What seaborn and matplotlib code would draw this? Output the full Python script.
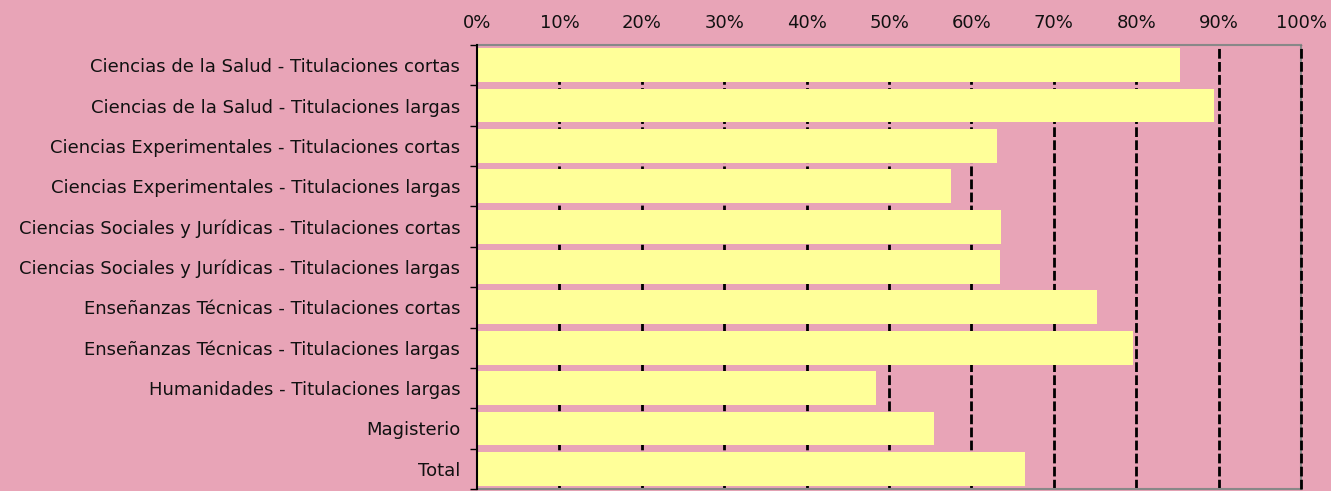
import matplotlib
matplotlib.use("Agg")
import matplotlib.pyplot as plt
import seaborn as sns
import pandas as pd
import numpy as np
from matplotlib.ticker import FixedLocator, PercentFormatter

categories = [
    "Ciencias de la Salud - Titulaciones cortas",
    "Ciencias de la Salud - Titulaciones largas",
    "Ciencias Experimentales - Titulaciones cortas",
    "Ciencias Experimentales - Titulaciones largas",
    "Ciencias Sociales y Jurídicas - Titulaciones cortas",
    "Ciencias Sociales y Jurídicas - Titulaciones largas",
    "Enseñanzas Técnicas - Titulaciones cortas",
    "Enseñanzas Técnicas - Titulaciones largas",
    "Humanidades - Titulaciones largas",
    "Magisterio",
    "Total",
]
values = [85.3, 89.4, 63.1, 57.5, 63.6, 63.5, 75.2, 79.6, 48.4, 55.5, 66.5]

df = pd.DataFrame({"cat": categories, "val": values})

bg = "#E8A4B7"
sns.set_theme(style="white")
plt.rcParams["font.family"] = ["DejaVu Sans"]

fig = plt.figure(figsize=(13.31, 4.91), dpi=100, facecolor=bg)
ax = fig.add_axes([0.3584, 0.004, 0.9775 - 0.3584, 0.9084 - 0.004])
ax.set_facecolor(bg)

sns.barplot(data=df, y="cat", x="val", orient="h", color="#FFFF99",
            saturation=1, width=0.84, ax=ax, zorder=3, edgecolor="none", linewidth=0)

ax.set_xlim(0, 100)
ax.set_ylim(len(categories) - 0.5, -0.5)
ax.xaxis.set_major_locator(FixedLocator(np.arange(0, 101, 10)))
ax.xaxis.set_major_formatter(PercentFormatter(decimals=0))
ax.xaxis.tick_top()
ax.tick_params(axis="x", length=0, pad=9, labelsize=13, colors="#111111")
ax.tick_params(axis="y", which="major", length=0, pad=12, labelsize=13, labelcolor="#111111")
ax.yaxis.set_minor_locator(FixedLocator(np.arange(-0.5, len(categories), 1)))
ax.tick_params(axis="y", which="minor", left=True, length=5, width=1, color="black", direction="out")

for xv in range(10, 101, 10):
    ax.axvline(xv, color="black", lw=2, ls=(0, (3.5, 1.2)),
               zorder=6 if xv == 100 else 1, clip_on=False)

ax.set_xlabel("")
ax.set_ylabel("")
for s in ["top", "right", "bottom"]:
    ax.spines[s].set_color("#888888")
    ax.spines[s].set_linewidth(1.5)
ax.spines["left"].set_color("black")
ax.spines["left"].set_linewidth(1.5)
ax.spines["left"].set_zorder(5)

fig.savefig("out.png", dpi=100, facecolor=bg)
